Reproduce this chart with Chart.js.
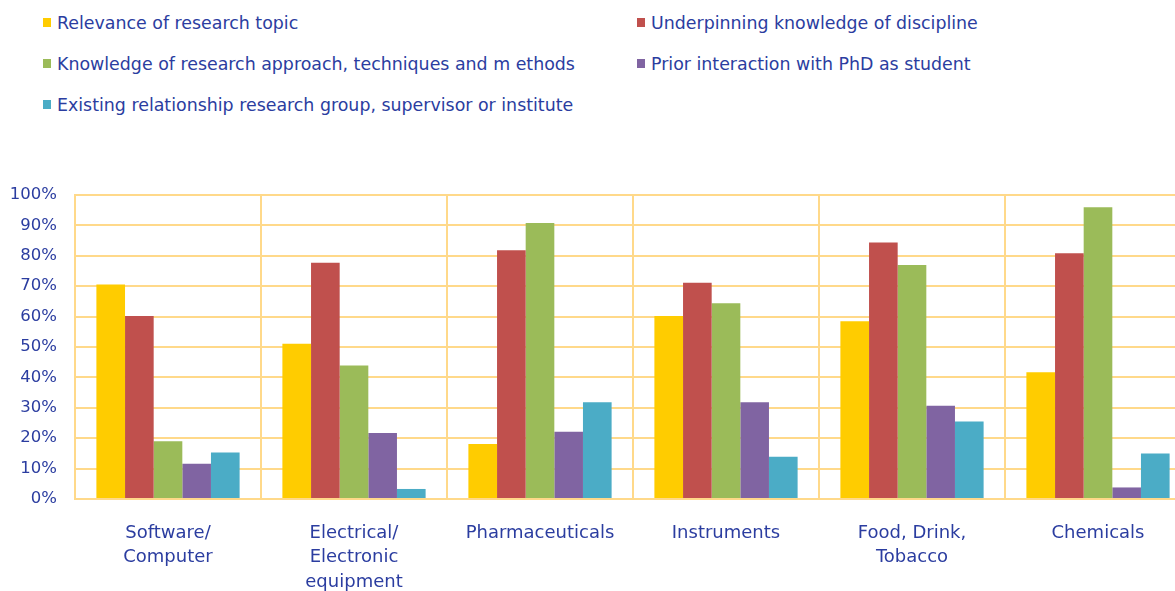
<!DOCTYPE html>
<html>
<head>
<meta charset="utf-8">
<script src="https://cdn.jsdelivr.net/npm/chart.js@4.4.0/dist/chart.umd.min.js"></script>
<style>
  html, body { margin: 0; padding: 0; background: #ffffff; overflow: hidden; width: 1175px; height: 591px; }
  #wrap { position: absolute; left: 0; top: 0; width: 1195px; height: 591px; }
  #legend { position: absolute; left: 0; top: 0; width: 1175px; height: 130px; font-family: "DejaVu Sans", sans-serif; font-size: 17.4px; color: #2B3DA0; }
  .li { position: absolute; white-space: nowrap; height: 20px; line-height: 20px; }
  .li span.box { position: absolute; left: 0; top: 5px; width: 8px; height: 9px; }
  .li span.txt { position: absolute; left: 14px; top: 0; }
</style>
</head>
<body>
<div id="legend"></div>
<div id="wrap"><canvas id="c" width="1195" height="591"></canvas></div>
<script>
const categories = [
  ["Software/", "Computer"],
  ["Electrical/", "Electronic", "equipment"],
  "Pharmaceuticals",
  "Instruments",
  ["Food, Drink,", "Tobacco"],
  "Chemicals"
];
const seriesNames = [
  "Relevance of research topic",
  "Underpinning knowledge of discipline",
  "Knowledge of research approach, techniques and m ethods",
  "Prior interaction with PhD as student",
  "Existing relationship research group, supervisor or institute"
];
const relevance      = [70.6, 51.1, 18.1, 60.2, 58.5, 41.7];
const underpinning   = [60.2, 77.7, 81.8, 71.1, 84.4, 80.8];
const methods        = [19.0, 43.9, 90.8, 64.4, 77.0, 96.0];
const priorPhd       = [11.6, 21.7, 22.1, 31.8, 30.7, 3.8];
const existingRel    = [15.3, 3.3, 31.8, 13.9, 25.5, 15.0];
const yTicks = [0, 10, 20, 30, 40, 50, 60, 70, 80, 90, 100];

const colors = ["#FFCC00", "#C0504D", "#9BBB59", "#8064A2", "#4BACC6"];
const values = [relevance, underpinning, methods, priorPhd, existingRel];

const gridColor = "#FFD98A";
const textColor = "#2B3DA0";
const fontFamily = "'DejaVu Sans', sans-serif";

const chart = new Chart(document.getElementById("c"), {
  type: "bar",
  data: {
    labels: categories,
    datasets: seriesNames.map((name, i) => ({
      label: name,
      data: values[i],
      backgroundColor: colors[i],
      borderWidth: 0,
      categoryPercentage: 0.77,
      barPercentage: 1.0
    }))
  },
  options: {
    responsive: false,
    animation: false,
    layout: { padding: { top: 195, right: 4, bottom: 0, left: 0 } },
    plugins: {
      legend: { display: false },
      tooltip: { enabled: false }
    },
    scales: {
      x: {
        grid: { color: gridColor, lineWidth: 2, drawTicks: false, offset: true },
        border: { color: gridColor, width: 2 },
        ticks: {
          color: textColor,
          font: { family: fontFamily, size: 18, lineHeight: 1.36 },
          padding: 22,
          maxRotation: 0,
          autoSkip: false
        },
        afterFit: (s) => { s.height = 92; }
      },
      y: {
        min: 0,
        max: 100,
        afterBuildTicks: (s) => { s.ticks = yTicks.map(v => ({ value: v })); },
        grid: { color: gridColor, lineWidth: 2, drawTicks: false },
        border: { color: gridColor, width: 2 },
        ticks: {
          color: textColor,
          font: { family: fontFamily, size: 16.5 },
          padding: 18,
          callback: (v) => v + "%"
        },
        afterFit: (s) => { s.width = 75; }
      }
    }
  }
});

// HTML legend built from the chart's datasets
const legendPos = [
  { left: 43, top: 13 },
  { left: 637, top: 13 },
  { left: 43, top: 54 },
  { left: 637, top: 54 },
  { left: 43, top: 95 }
];
const legend = document.getElementById("legend");
chart.data.datasets.forEach((ds, i) => {
  const d = document.createElement("div");
  d.className = "li";
  d.style.left = legendPos[i].left + "px";
  d.style.top = legendPos[i].top + "px";
  const b = document.createElement("span");
  b.className = "box";
  b.style.background = ds.backgroundColor;
  const t = document.createElement("span");
  t.className = "txt";
  t.textContent = ds.label;
  d.appendChild(b);
  d.appendChild(t);
  legend.appendChild(d);
});
</script>
</body>
</html>
